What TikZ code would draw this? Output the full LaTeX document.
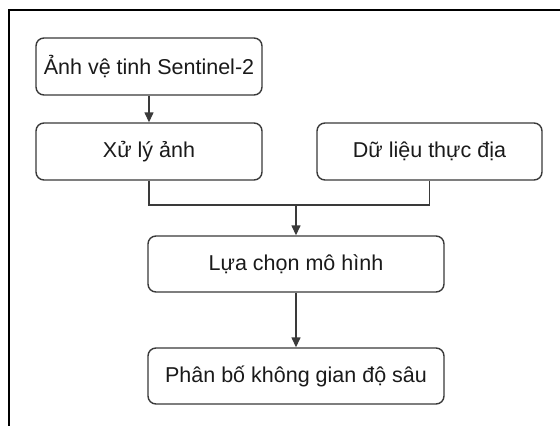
\documentclass[tikz,border=0pt]{standalone}
\usepackage{fontspec}
\setmainfont{Liberation Sans}
\usetikzlibrary{arrows.meta}
\definecolor{ln}{HTML}{3A3A3A}
\definecolor{tx}{HTML}{1A1A1A}
\begin{document}
\begin{tikzpicture}[x=1pt,y=-1pt,
  box/.style={draw=ln,line width=1.4pt,rounded corners=8pt,inner sep=0pt,
    font=\fontsize{21.5}{25}\selectfont,text=tx},
  conn/.style={draw=ln,line width=1.4pt},
  arr/.style={conn,-{Triangle[length=10pt,width=9pt]}}]
\useasboundingbox (0,0) rectangle (560,426);
\fill[white] (0,0) rectangle (560,426);
\draw[black,line width=1.4pt] (560,10) -- (9,10) -- (9,426);
\node[box,minimum width=226pt,minimum height=57pt] (a) at (149,66.5) {Ảnh vệ tinh Sentinel-2};
\node[box,minimum width=226pt,minimum height=57pt] (b) at (149,151.5) {Xử lý ảnh};
\node[box,minimum width=225pt,minimum height=57pt] (c) at (429.5,151.5) {Dữ liệu thực địa};
\node[box,minimum width=296pt,minimum height=56pt] (d) at (296,264) {Lựa chọn mô hình};
\node[box,minimum width=296pt,minimum height=56pt] (e) at (296,376) {Phân bố không gian độ sâu};
\coordinate (j) at (296,205);
\draw[arr] (a) -- (b);
\draw[conn] (b.south) |- (j) -| (c.south);
\draw[arr] (j) -- (d.north);
\draw[arr] (d) -- (e);
\end{tikzpicture}
\end{document}
